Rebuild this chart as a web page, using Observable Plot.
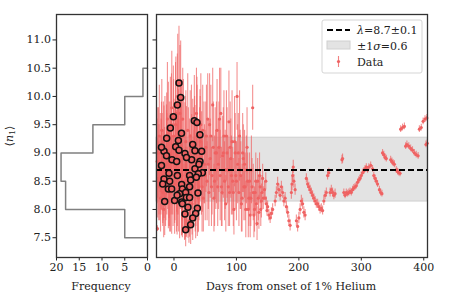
<!DOCTYPE html>
<html><head><meta charset="utf-8">
<script src="https://cdn.jsdelivr.net/npm/d3@7"></script>
<script src="https://cdn.jsdelivr.net/npm/@observablehq/plot@0.6"></script>
<style>
body{margin:0;background:#fff;}
#wrap{position:relative;width:450px;height:300px;font-family:"DejaVu Serif";}
#wrap svg{position:absolute;top:0;overflow:visible}
#wrap svg, #wrap svg text{font-family:"DejaVu Serif" !important;}
</style></head><body><div id="wrap"></div>
<script>
// ---- data ----
const binEdges = [7.5, 8.0, 8.5, 9.0, 9.5, 10.0, 10.5];
const binCounts = [5, 18, 19, 12, 5, 1];
const yTicks = [7.5, 8.0, 8.5, 9.0, 9.5, 10.0, 10.5, 11.0];
const freqTicks = [20, 15, 10, 5, 0];
const dayTicks = [0, 100, 200, 300, 400];
const yDomain = [7.15, 11.45];
const freqDomain = [20, 0];
const dayDomain = [-28, 406];
const lambdaVal = 8.7;
const bandLo = 8.14, bandHi = 9.27;
const legendLabels = ["=8.7±0.1", "=0.6", "Data"];

// early (noisy) data
const earlyDay = [-27,-26.5,-26,-25,-24,-23,-22,-21,-19,-18,-17,-15,-13,-12,-10,-9,-7,-6,-4,-2,0,1,3,5,6,10,11,13,14,16,17,19,21,23,24,26,27,29,31,32,34,36,38,40,42,44,46,47,49,51,53,54,56,58,59,61,62,64,66,67,69,70,72,74,75,77,78,80,81,83,85,86,88,89,91,93,94,96,98,99,101,102,104,105,107,108,110,112,113,115,117,118,120,122,124,126,127,129,131,133,135,137,139,141];
const earlyVal = [8.85,7.66,8.55,9.1,8.7,8.4,9.0,8.6,8.9,8.3,9.2,8.75,8.5,9.05,8.7,9.35,8.2,8.9,9.5,8.6,9.15,8.45,9.7,8.8,10.0,8.9,9.3,8.6,9.6,8.2,7.9,9.2,8.4,8.9,7.8,9.3,8.5,8.1,9.0,8.7,8.3,9.7,8.9,8.4,9.2,8.6,9.4,8.2,8.8,9.1,8.5,9.6,8.3,8.9,9.3,8.6,9.85,8.2,9.0,8.7,9.4,8.4,9.1,8.6,9.7,8.3,8.95,9.3,8.5,8.1,9.0,8.7,9.55,8.3,8.9,9.2,8.5,8.0,9.0,8.6,10.0,8.8,8.3,9.3,8.6,8.1,9.0,8.4,8.8,8.0,9.1,8.5,8.2,7.9,8.7,9.8,8.3,8.0,8.5,7.75,8.2,8.6,8.0,8.3];
const earlyErr = [0.75,0.05,0.7,0.7,0.8,0.6,0.7,0.7,0.8,0.6,
  0.7,0.7,0.7,0.8,0.7,0.9,0.6,0.8,0.9,0.7,
  0.8,0.7,1.0,0.9,1.1,0.9,1.0,0.8,0.9,0.6,
  0.45,0.9,0.7,0.9,0.4,0.8,0.7,0.55,0.8,0.7,
  0.7,0.8,0.7,0.6,0.8,0.7,0.8,0.6,0.7,0.8,
  0.7,0.8,0.6,0.7,0.9,0.7,0.65,0.6,0.8,0.7,
  0.9,0.7,0.8,0.8,0.8,0.6,0.7,0.8,0.7,0.5,
  0.8,0.6,0.9,0.6,0.7,0.9,0.6,0.45,0.7,0.6,
  0.6,0.7,0.6,0.8,0.6,0.5,0.7,0.6,0.6,0.5,
  0.7,0.5,0.5,0.4,0.6,0.4,0.5,0.4,0.5,0.3,
  0.4,0.4,0.3,0.3];

const earlyDay2 = [-26,-24.5,-23.5,-21.5,-20.5,-19.5,-17.5,-16.5,-14.5,-13.5,
  -11.5,-10.5,-8.5,-7.5,-5.5,-4.5,-3.5,-1.5,-0.5,1.5,
  2.5,4,6.5,7.5,9.5,12.5,15,16.5,18,20,
  22,25,28,30,33,35,37,39,41,43,
  45,48,50,52,55,57,60,63,65,68,
  71,73,76,79,82,84,87,90,92,95,
  97,100,103,106,109,111,114,116,119,121,
  123,125,128,130,132,134,136,138,140,142,
  143];
const earlyVal2 = [9.0,8.5,9.3,8.2,8.8,9.4,8.6,8.0,9.1,8.4,
  8.8,9.6,8.5,9.0,8.3,8.9,9.8,8.4,9.3,8.8,
  9.5,8.3,9.1,8.6,9.7,8.9,9.3,8.5,9.0,8.2,
  9.4,8.7,9.2,8.4,9.0,8.6,9.3,8.2,8.9,9.5,
  8.4,9.0,8.6,9.3,8.8,9.5,8.4,9.1,8.5,9.0,
  8.8,9.6,8.4,9.0,8.7,9.3,8.4,9.1,8.6,8.3,
  9.2,8.5,9.0,8.7,8.2,8.9,8.4,8.7,8.0,8.5,
  8.2,8.4,7.9,8.3,8.1,8.5,7.95,8.4,8.15,8.55,
  8.2];
const earlyErr2 = [0.8,0.7,0.9,0.6,0.8,0.9,0.8,0.5,0.9,0.7,
  0.9,1.0,0.8,0.9,0.7,1.0,1.0,0.7,1.0,1.0,
  1.1,0.7,1.2,1.0,1.2,1.1,1.0,0.9,1.0,0.6,
  1.0,0.9,1.0,0.7,1.0,0.9,0.9,0.6,0.9,0.9,
  0.8,0.9,0.8,0.9,0.8,0.9,0.7,0.8,0.8,0.9,
  0.8,0.9,0.7,0.8,0.7,0.8,0.7,0.8,0.7,0.6,
  0.8,0.7,0.7,0.7,0.6,0.6,0.6,0.6,0.5,0.5,
  0.5,0.5,0.4,0.4,0.4,0.4,0.3,0.3,0.3,0.25,
  0.2];

// later (smooth) data
const lateDay = [145,146,147,148,149,150,152,154,156,158,
  162,164,166,168,170,172,174,176,178,180,
  182,184,186,188,189,190,191,192,194,196,
  198,200,202,204,206,208,210,212,214,216,
  218,220,222,224,226,228,230,232,234,236,
  238,240,242,244,246,248,250,252,254,256,
  258,269,270,272,274,276,278,280,282,284,
  286,288,290,292,294,296,298,300,302,304,
  306,308,310,312,315,318,320,322,324,326,
  329,331,333,334,336,338,340,347,349,351,
  353,356,358,360,362,363,366,369,371,373,
  376,379,382,385,388,391,393,396,399,402,
  405,403.5,405.5];
const lateVal = [8.35,8.2,8.5,8.1,7.98,8.05,7.9,7.85,7.93,8.0,
  8.15,8.3,8.45,8.35,8.25,8.4,8.3,8.15,8.2,8.05,
  7.95,7.8,7.72,8.3,8.45,8.6,8.75,8.5,8.35,7.8,
  7.7,7.85,8.0,8.15,8.1,7.95,7.9,8.55,8.45,8.4,
  8.35,8.3,8.25,8.2,8.15,8.1,8.1,8.05,8.0,8.02,
  7.98,8.15,8.25,8.3,8.6,8.65,8.3,8.35,8.3,8.25,
  8.28,8.88,8.9,8.3,8.25,8.3,8.28,8.3,8.32,8.3,
  8.35,8.38,8.4,8.42,8.48,8.52,8.55,8.6,8.65,8.68,
  8.72,8.75,8.7,8.75,8.78,8.72,8.6,8.55,8.5,8.45,
  8.35,8.3,8.28,9.0,8.97,8.92,8.9,8.88,8.85,8.82,
  8.8,8.7,8.67,8.65,8.64,9.42,9.45,9.47,9.12,9.15,
  9.12,9.08,9.05,9.0,8.97,8.95,9.42,9.45,9.56,9.6,
  9.62,9.15,9.17];
const lateErr = [0.15,0.12,0.15,0.12,0.1,0.1,0.1,0.1,0.1,0.1,
  0.1,0.1,0.12,0.1,0.1,0.1,0.1,0.1,0.1,0.1,
  0.1,0.1,0.1,0.12,0.12,0.12,0.12,0.12,0.1,0.1,
  0.1,0.1,0.1,0.1,0.1,0.1,0.1,0.08,0.08,0.08,
  0.08,0.08,0.08,0.08,0.08,0.08,0.08,0.08,0.08,0.08,
  0.08,0.08,0.08,0.08,0.08,0.08,0.08,0.08,0.08,0.08,
  0.08,0.08,0.08,0.06,0.06,0.06,0.06,0.06,0.06,0.06,
  0.06,0.06,0.06,0.06,0.06,0.06,0.06,0.06,0.06,0.06,
  0.06,0.06,0.06,0.06,0.06,0.06,0.06,0.06,0.06,0.06,
  0.06,0.06,0.06,0.06,0.06,0.06,0.06,0.06,0.06,0.06,
  0.06,0.06,0.06,0.06,0.06,0.06,0.06,0.06,0.06,0.06,
  0.06,0.06,0.06,0.06,0.06,0.06,0.06,0.06,0.06,0.06,
  0.06,0.06,0.06];

// highlighted (circled) points
const circDay = [8,10.7,5.4,-1,-5.8,-11.7,7,32.6,36.8,41.6,-16,2.7,8,17.6,33.6,44.3,28.3,41.6,-3.2,4.3,33.6,45.4,-8,5.4,-16,25,39,-6.9,12.3,26.7,35.8,-9,-3.7,25,13.4,9,18.7,38.4,-14.9,1,12.3,19.8,25,13.4,22.4,37.4,17.6,34.7,26.7,18.7,30,-20,12,-20,20,-12,40,5,-18,30];
const circVal = [10.24,9.98,9.85,9.64,9.44,9.26,9.22,9.57,9.54,9.32,9.03,9.11,9.05,8.99,9.04,9.03,8.88,8.85,8.88,8.85,8.72,8.65,8.64,8.60,8.54,8.60,8.63,8.50,8.44,8.52,8.57,8.36,8.36,8.40,8.36,8.28,8.30,8.29,8.14,8.16,8.13,8.21,8.21,8.10,8.04,8.02,7.92,7.93,7.73,7.64,9.15,9.1,9.35,8.78,8.92,8.95,8.8,8.25,8.45,7.85];
const circErr = [1.0,1.0,0.9,0.9,0.9,0.8,0.9,0.8,0.8,0.8,0.8,0.9,0.9,0.9,0.8,0.7,0.8,0.7,0.8,0.9,0.8,0.7,0.8,0.9,0.7,0.8,0.7,0.8,0.9,0.8,0.7,0.7,0.8,0.8,0.8,0.8,0.8,0.7,0.6,0.6,0.6,0.7,0.7,0.6,0.55,0.5,0.45,0.45,0.35,0.3,0.8,0.8,0.9,0.8,0.9,0.8,0.7,0.7,0.7,0.4];

// ---- build tables ----
const stepPts = [{f: 0, v: binEdges[0]}];
binCounts.forEach((c, i) => { stepPts.push({f: c, v: binEdges[i]}, {f: c, v: binEdges[i + 1]}); });
stepPts.push({f: 0, v: binEdges[binEdges.length - 1]});

const rows = (ds, vs, es) => ds.map((d, i) => ({day: d, val: vs[i], err: es[i]}));
const early = rows(earlyDay, earlyVal, earlyErr).concat(rows(earlyDay2, earlyVal2, earlyErr2));
const late = rows(lateDay, lateVal, lateErr);
const circ = rows(circDay, circVal, circErr);
const allRed = early.concat(late, circ);

const RED = "#ef6262";
const FONT = {fontFamily: "DejaVu Serif", fontSize: "11px", color: "#222", background: "transparent"};
const wrap = document.getElementById("wrap");

const left = Plot.plot({
  width: 150, height: 300, marginLeft: 56, marginRight: 3, marginTop: 14, marginBottom: 43,
  style: FONT,
  x: {domain: freqDomain},
  y: {domain: yDomain},
  marks: [
    Plot.line(stepPts, {x: "f", y: "v", stroke: "#808080", strokeWidth: 1.5}),
    Plot.axisX({ticks: freqTicks, tickSize: 3.5, tickPadding: 2, label: null, tickFormat: d => String(d)}),
    Plot.axisY({ticks: yTicks, tickSize: 3.5, tickPadding: 2, label: null, tickFormat: d => d.toFixed(1)}),
    Plot.frame({stroke: "#333", strokeWidth: 1.3})
  ]
});
left.style.left = "0px";
wrap.appendChild(left);

const right = Plot.plot({
  width: 300, height: 300, marginLeft: 6, marginRight: 23, marginTop: 14, marginBottom: 43,
  style: FONT,
  x: {domain: dayDomain},
  y: {domain: yDomain},
  marks: [
    Plot.rect([{}], {x1: dayDomain[0], x2: dayDomain[1], y1: bandLo, y2: bandHi, fill: "#e3e3e3", stroke: "#d0d0d0", strokeWidth: 1}),
    Plot.ruleX(allRed, {x: "day", y1: d => d.val - d.err, y2: d => d.val + d.err, stroke: RED, strokeOpacity: 0.7, strokeWidth: 1.1}),
    Plot.dot(early.concat(late), {x: "day", y: "val", r: 1.6, fill: RED, stroke: "none"}),
    Plot.ruleY([lambdaVal], {stroke: "#000", strokeWidth: 2, strokeDasharray: "6,3"}),
    Plot.dot(circ, {x: "day", y: "val", r: 3, fill: RED, stroke: "#111", strokeWidth: 1.5}),
    Plot.axisX({ticks: dayTicks, tickSize: 3.5, tickPadding: 2, label: null, tickFormat: d => String(d)}),
    Plot.axisY({ticks: yTicks, tickSize: 3.5, label: null, tickFormat: () => ""}),
    Plot.frame({stroke: "#333", strokeWidth: 1.3})
  ]
});
right.style.left = "150px";
wrap.appendChild(right);

// axis titles
const txt = (sel, x, y, anchor) => sel.append("text").attr("x", x).attr("y", y).attr("text-anchor", anchor)
  .attr("font-family", "DejaVu Serif").style("font-size", "11px").attr("fill", "#222");
const ls = d3.select(left);
ls.append("text").attr("transform", "translate(13,136) rotate(-90)").attr("text-anchor", "middle")
  .style("font-size", "11px").attr("fill", "#222")
  .call(t => { t.append("tspan").text("⟨"); t.append("tspan").attr("font-style", "italic").text("n"); t.append("tspan").attr("font-size", "8px").attr("dy", 2).text("1"); t.append("tspan").attr("dy", -2).text("⟩"); });
txt(ls, 101, 290, "middle").text("Frequency");

const rs = d3.select(right);
txt(rs, 141, 290, "middle").text("Days from onset of 1% Helium");

// legend
const lg = rs.append("g").attr("transform", "translate(172,20)");
lg.append("rect").attr("width", 100).attr("height", 53).attr("rx", 2).attr("fill", "#fff").attr("fill-opacity", 0.85).attr("stroke", "#d5d5d5");
lg.append("line").attr("x1", 5).attr("x2", 28).attr("y1", 10).attr("y2", 10).attr("stroke", "#000").attr("stroke-width", 2).attr("stroke-dasharray", "6,3");
lg.append("rect").attr("x", 5).attr("y", 21).attr("width", 23).attr("height", 8).attr("fill", "#e3e3e3").attr("stroke", "#d0d0d0");
lg.append("line").attr("x1", 16.5).attr("x2", 16.5).attr("y1", 36).attr("y2", 47).attr("stroke", RED).attr("stroke-opacity", 0.8).attr("stroke-width", 1.1);
lg.append("circle").attr("cx", 16.5).attr("cy", 41.5).attr("r", 1.6).attr("fill", RED);
const t1 = txt(lg, 35, 14, "start");
t1.append("tspan").attr("font-style", "italic").text("λ"); t1.append("tspan").text(legendLabels[0]);
const t2 = txt(lg, 35, 30, "start");
t2.append("tspan").text("±1"); t2.append("tspan").attr("font-style", "italic").text("σ"); t2.append("tspan").text(legendLabels[1]);
txt(lg, 35, 46, "start").text(legendLabels[2]);
</script></body></html>
